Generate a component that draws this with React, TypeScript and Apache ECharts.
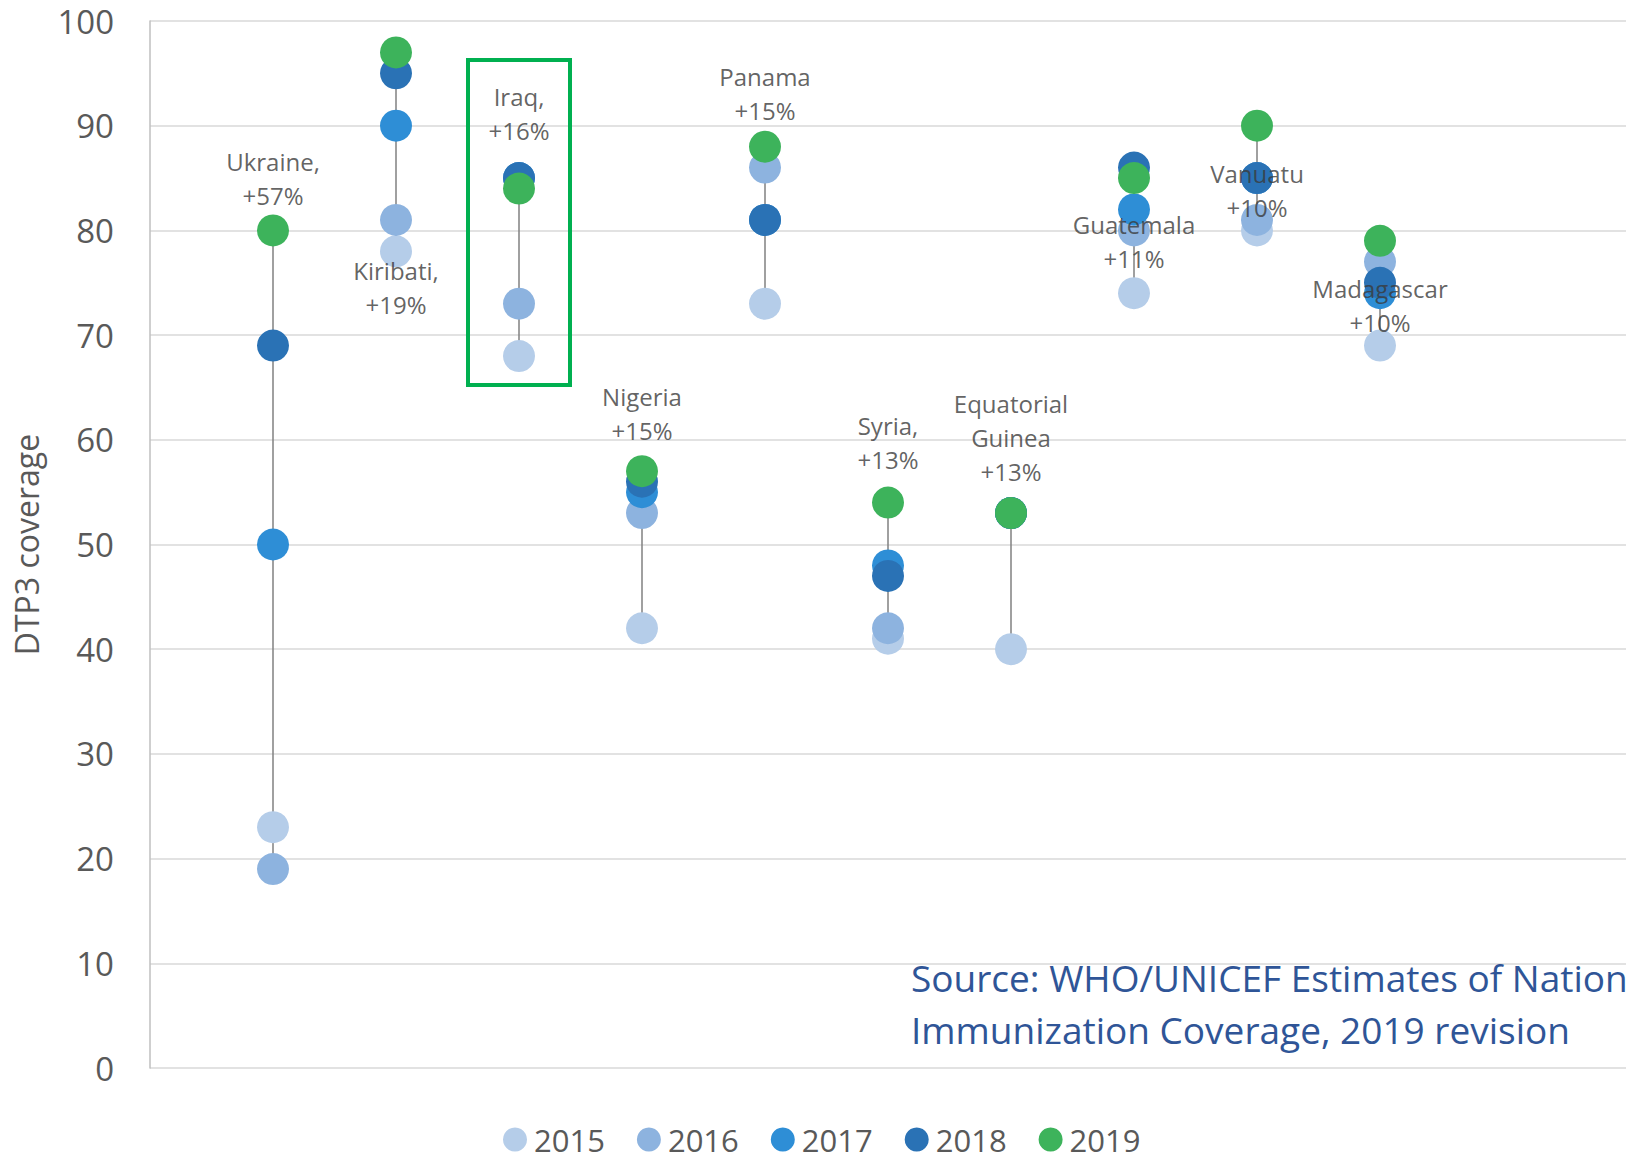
import React, { useEffect, useRef } from "react";
import * as echarts from "echarts";

const countries = [
  "Ukraine",
  "Kiribati",
  "Iraq",
  "Nigeria",
  "Panama",
  "Syria",
  "Equatorial Guinea",
  "Guatemala",
  "Vanuatu",
  "Madagascar",
];
const years = ["2015", "2016", "2017", "2018", "2019"];
const cov2015 = [23, 78, 68, 42, 73, 41, 40, 74, 80, 69];
const cov2016 = [19, 81, 73, 53, 86, 42, 53, 80, 81, 77];
const cov2017 = [50, 90, 85, 55, 81, 48, 53, 82, 85, 74];
const cov2018 = [69, 95, 85, 56, 81, 47, 53, 86, 85, 75];
const cov2019 = [80, 97, 84, 57, 88, 54, 53, 85, 90, 79];
const changeLabels = [
  "Ukraine,\n+57%",
  "Kiribati,\n+19%",
  "Iraq,\n+16%",
  "Nigeria\n+15%",
  "Panama\n+15%",
  "Syria,\n+13%",
  "Equatorial\nGuinea\n+13%",
  "Guatemala\n+11%",
  "Vanuatu\n+10%",
  "Madagascar\n+10%",
];
const labelAnchor = [85, 74.5, 91.2, 62.5, 93.1, 59.7, 60.2, 78.9, 83.8, 72.8];
const sourceLines = [
  "Source: WHO/UNICEF Estimates of National",
  "Immunization Coverage, 2019 revision",
];

const yearColors = ["#B5CDE9", "#8DB3DF", "#2E8ED6", "#2A72B5", "#3DB35B"];
const FONT = "'Open Sans', 'Noto Sans', sans-serif";

export default function App() {
  const ref = useRef<HTMLDivElement>(null);

  useEffect(() => {
    if (!ref.current) return;
    const chart = echarts.init(ref.current, null, { renderer: "svg" });
    const all = [cov2015, cov2016, cov2017, cov2018, cov2019];

    const lineData = countries.map((_, i) => {
      const vals = all.map((a) => a[i]);
      return [i + 1, Math.min(...vals), Math.max(...vals)];
    });

    const yearSeries = years.map((y, k) => ({
      name: y,
      type: "scatter",
      symbol: "circle",
      symbolSize: 32,
      z: 3 + k,
      itemStyle: { color: yearColors[k], opacity: 1 },
      data: all[k].map((v, i) => [i + 1, v]),
    }));

    chart.setOption({
      animation: false,
      textStyle: { fontFamily: FONT },
      grid: { left: 150, top: 21, width: 1481, bottom: 85, containLabel: false },
      xAxis: {
        type: "value",
        min: 0,
        max: 12,
        axisLine: { show: false },
        axisTick: { show: false },
        axisLabel: { show: false },
        splitLine: { show: false },
      },
      yAxis: {
        type: "value",
        min: 0,
        max: 100,
        interval: 10,
        name: "DTP3 coverage",
        nameLocation: "middle",
        nameRotate: 90,
        nameGap: 108,
        nameTextStyle: { fontSize: 32, color: "#595959", fontFamily: FONT },
        axisLine: { show: true, lineStyle: { color: "#BFBFBF", width: 1.5 } },
        axisTick: { show: false },
        axisLabel: { fontSize: 33, color: "#595959", margin: 36, fontFamily: FONT },
        splitLine: { show: true, lineStyle: { color: "#D9D9D9", width: 1.5 } },
      },
      legend: {
        data: years,
        icon: "circle",
        itemWidth: 24,
        itemHeight: 24,
        itemGap: 32,
        left: 498,
        top: 1119,
        textStyle: { fontSize: 31, color: "#595959", fontFamily: FONT, padding: [0, 0, 0, 2] },
      },
      series: [
        {
          type: "custom",
          z: 2,
          silent: true,
          encode: { x: 0, y: [1, 2] },
          data: lineData,
          renderItem: (params: any, api: any) => {
            const x = api.value(0);
            const p1 = api.coord([x, api.value(1)]);
            const p2 = api.coord([x, api.value(2)]);
            return {
              type: "line",
              shape: { x1: p1[0], y1: p1[1], x2: p2[0], y2: p2[1] },
              style: { stroke: "#808080", lineWidth: 1.5 },
            };
          },
        },
        ...yearSeries,
        {
          type: "scatter",
          z: 20,
          silent: true,
          symbolSize: 1,
          itemStyle: { color: "rgba(0,0,0,0)" },
          data: countries.map((c, i) => ({ name: changeLabels[i], value: [i + 1, labelAnchor[i]] })),
          label: {
            show: true,
            position: "inside",
            formatter: (p: any) => p.name,
            fontSize: 24,
            lineHeight: 34,
            color: "#3A3A3A",
            fontFamily: FONT,
            align: "center",
            verticalAlign: "middle",
          },
        },
      ],
      graphic: [
        {
          type: "rect",
          z: 30,
          shape: { x: 468, y: 60, width: 102, height: 325 },
          style: { fill: "none", stroke: "#00B050", lineWidth: 4 },
        },
        {
          type: "text",
          z: 30,
          x: 911,
          y: 977,
          style: {
            text: sourceLines[0],
            fontSize: 37,
            fontFamily: FONT,
            fill: "#2F5597",
            verticalAlign: "middle",
          },
        },
        {
          type: "text",
          z: 30,
          x: 911,
          y: 1029,
          style: {
            text: sourceLines[1],
            fontSize: 37,
            fontFamily: FONT,
            fill: "#2F5597",
            verticalAlign: "middle",
          },
        },
      ],
    });

    return () => chart.dispose();
  }, []);

  return (
    <div
      ref={ref}
      style={{ position: "absolute", left: 0, top: 0, width: 1626, height: 1153, background: "#fff" }}
    />
  );
}
